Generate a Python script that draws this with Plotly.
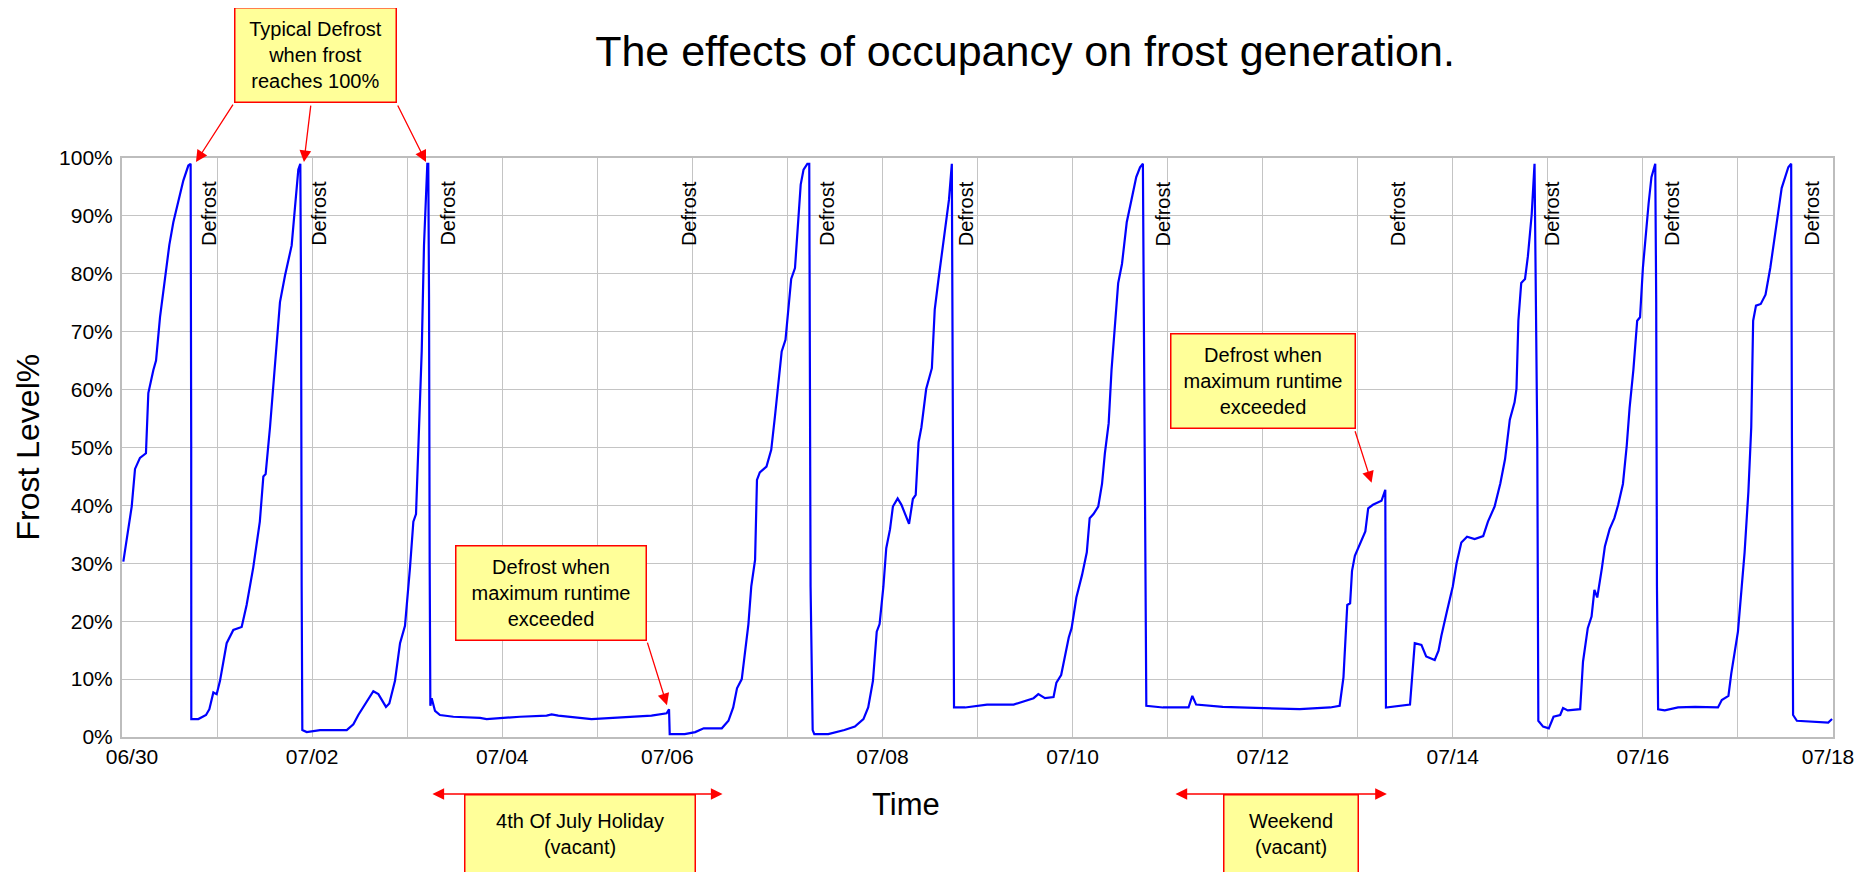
import pandas as pd
import plotly.graph_objects as go

# ---------------- data ----------------
START_DATE = "2008-06-30"
END_DATE = "2008-07-18"

# x-axis tick labels (every two days)
tick_labels = ["06/30", "07/02", "07/04", "07/06", "07/08", "07/10", "07/12", "07/14", "07/16", "07/18"]

# elapsed time since 06/30 00:00 (days) and frost level (%)
elapsed_days = [
    0.014, 0.102, 0.137, 0.189, 0.252, 0.277, 0.330, 0.358, 0.400, 0.435, 0.498, 0.540,
    0.593, 0.645, 0.698, 0.722, 0.728, 0.729, 0.803, 0.884, 0.919, 0.961, 0.996, 1.031,
    1.101, 1.171, 1.259, 1.311, 1.381, 1.417, 1.450, 1.487, 1.511, 1.557, 1.592, 1.627,
    1.662, 1.715, 1.750, 1.785, 1.820, 1.855, 1.876, 1.884, 1.890, 1.897, 1.943, 2.083,
    2.364, 2.434, 2.486, 2.574, 2.644, 2.697, 2.777, 2.812, 2.872, 2.925, 2.977, 3.030,
    3.065, 3.093, 3.117, 3.153, 3.177, 3.198, 3.212, 3.222, 3.230, 3.237, 3.244, 3.258,
    3.293, 3.345, 3.486, 3.766, 3.836, 4.187, 4.467, 4.520, 4.590, 4.940, 5.330, 5.570,
    5.730, 5.755, 5.762, 5.920, 6.030, 6.120, 6.310, 6.380, 6.430, 6.470, 6.520, 6.550,
    6.590, 6.620, 6.660, 6.680, 6.710, 6.780, 6.830, 6.870, 6.900, 6.940, 6.980, 7.010,
    7.040, 7.080, 7.110, 7.140, 7.170, 7.210, 7.230, 7.237, 7.244, 7.266, 7.283, 7.430,
    7.600, 7.710, 7.800, 7.850, 7.900, 7.940, 7.970, 8.010, 8.040, 8.080, 8.110, 8.160,
    8.200, 8.280, 8.320, 8.350, 8.380, 8.410, 8.460, 8.520, 8.550, 8.590, 8.640, 8.670,
    8.700, 8.730, 8.737, 8.744, 8.753, 8.870, 9.100, 9.380, 9.480, 9.590, 9.640, 9.710,
    9.800, 9.830, 9.880, 9.920, 9.960, 9.990, 10.040, 10.100, 10.150, 10.180, 10.220, 10.270,
    10.310, 10.340, 10.380, 10.410, 10.450, 10.480, 10.520, 10.570, 10.620, 10.670, 10.710, 10.740,
    10.748, 10.766, 10.776, 10.950, 11.220, 11.260, 11.300, 11.580, 12.010, 12.390, 12.710, 12.810,
    12.850, 12.890, 12.920, 12.940, 12.970, 13.020, 13.080, 13.110, 13.160, 13.250, 13.290, 13.297,
    13.550, 13.600, 13.670, 13.720, 13.810, 13.850, 13.880, 13.940, 14.000, 14.040, 14.090, 14.150,
    14.230, 14.320, 14.370, 14.440, 14.500, 14.550, 14.600, 14.650, 14.670, 14.690, 14.720, 14.760,
    14.790, 14.830, 14.860, 14.889, 14.900, 14.950, 15.010, 15.060, 15.130, 15.160, 15.210, 15.340,
    15.370, 15.420, 15.460, 15.490, 15.520, 15.570, 15.600, 15.650, 15.700, 15.740, 15.790, 15.830,
    15.860, 15.900, 15.940, 15.970, 16.000, 16.060, 16.090, 16.130, 16.140, 16.148, 16.160, 16.230,
    16.370, 16.550, 16.790, 16.830, 16.900, 16.930, 16.970, 17.000, 17.040, 17.070, 17.110, 17.140,
    17.160, 17.190, 17.240, 17.290, 17.340, 17.390, 17.460, 17.530, 17.560, 17.568, 17.580, 17.620,
    17.810, 17.950, 17.990,
]
frost_pct = [
    30.3, 39.8, 46.3, 48.2, 49.0, 59.4, 63.4, 65.0, 72.5, 77.1, 85.0, 88.9,
    92.8, 96.1, 98.7, 99.0, 50.9, 3.1, 3.1, 3.8, 4.8, 7.7, 7.4, 9.7,
    16.2, 18.5, 19.0, 22.8, 29.3, 33.2, 37.2, 45.0, 45.4, 53.5, 60.7, 68.6,
    75.1, 79.7, 82.3, 84.9, 91.5, 98.0, 99.0, 75.1, 26.0, 1.2, 0.85, 1.2,
    1.2, 2.2, 3.8, 6.1, 7.9, 7.4, 5.2, 5.8, 9.7, 16.2, 19.2, 29.3,
    37.2, 38.5, 49.0, 66.6, 84.9, 94.8, 99.0, 99.0, 75.8, 29.3, 5.4, 6.7,
    4.5, 3.8, 3.5, 3.3, 3.1, 3.5, 3.7, 3.9, 3.7, 3.1, 3.5, 3.7,
    4.1, 4.8, 0.5, 0.5, 0.85, 1.5, 1.5, 2.8, 5.1, 8.4, 10.0, 14.3,
    19.5, 26.0, 30.6, 44.4, 45.7, 46.7, 49.6, 55.5, 60.7, 66.6, 68.6, 73.8,
    79.1, 81.0, 88.2, 95.4, 98.0, 99.0, 99.0, 75.0, 26.0, 1.2, 0.5, 0.5,
    1.2, 1.8, 3.1, 5.1, 9.7, 18.2, 19.5, 26.0, 32.6, 35.9, 39.8, 41.2,
    40.1, 36.8, 41.1, 41.8, 50.9, 53.5, 60.1, 63.7, 73.8, 79.1, 85.6, 88.9,
    92.8, 99.0, 75.5, 29.3, 5.1, 5.1, 5.6, 5.6, 6.1, 6.7, 7.4, 6.7,
    6.9, 9.4, 10.7, 14.3, 17.2, 18.8, 24.1, 28.0, 31.9, 37.8, 38.5, 39.8,
    43.7, 49.0, 54.2, 63.4, 72.5, 78.4, 81.7, 88.9, 92.8, 96.7, 98.4, 99.0,
    77.7, 35.2, 5.4, 5.1, 5.1, 7.1, 5.6, 5.2, 5.0, 4.8, 5.1, 5.4,
    10.3, 22.8, 23.1, 28.7, 31.3, 33.2, 35.5, 39.5, 40.1, 40.8, 42.7, 5.1,
    5.6, 16.2, 15.9, 13.9, 13.3, 14.9, 17.5, 21.8, 26.0, 30.0, 33.6, 34.6,
    34.2, 34.7, 37.2, 39.8, 43.8, 48.0, 54.8, 57.8, 60.1, 71.9, 78.4, 79.1,
    83.0, 90.2, 99.0, 50.9, 2.8, 1.8, 1.5, 3.5, 3.8, 5.0, 4.6, 4.8,
    13.0, 18.8, 20.8, 25.4, 24.1, 29.3, 32.9, 35.9, 37.8, 40.1, 43.7, 50.3,
    56.8, 63.4, 71.9, 72.5, 81.0, 92.1, 96.7, 99.0, 75.1, 26.0, 4.8, 4.6,
    5.1, 5.2, 5.1, 6.4, 7.1, 11.0, 14.9, 18.2, 26.0, 31.9, 42.4, 53.5,
    71.9, 74.5, 74.8, 76.4, 81.0, 86.9, 94.8, 98.4, 99.0, 51.6, 3.8, 2.8,
    2.7, 2.5, 3.1,
]

# "Defrost" label positions (elapsed days)
defrost_label_days = [0.908, 2.065, 3.430, 5.960, 7.410, 8.875, 10.950, 13.420, 15.040, 16.300, 17.770]
defrost_label_text = "Defrost"

# typical defrost events (arrow targets), elapsed days
typical_defrost_days = [0.778, 1.914, 3.198]
# maximum-runtime defrost events: (elapsed day, frost %)
max_runtime_days = [5.733, 13.146]
max_runtime_pct = [5.5, 43.9]

# vacant periods (elapsed days)
vacant_starts = [3.25, 11.067]
vacant_ends = [6.318, 13.307]
vacant_labels = ["4th Of July Holiday<br>(vacant)", "Weekend<br>(vacant)"]

title_text = "The effects of occupancy on frost generation."
y_title = "Frost Level%"
x_title = "Time"

# ---------------- figure ----------------
t0 = pd.Timestamp(START_DATE)
def to_time(d):
    return t0 + pd.to_timedelta(d, unit="D")

times = [to_time(d) for d in elapsed_days]

FONT = "Liberation Sans, Arial, Helvetica, sans-serif"
PAGE_W, PAGE_H = 1875, 872
OFF = 8                     # default body margin of the html page
W, H = PAGE_W - OFF, PAGE_H - OFF
PX_L, PX_R, PX_T, PX_B = 122, 1833, 158, 737   # plot area in page pixels
L, R, T, B = PX_L - OFF, PAGE_W - PX_R, PX_T - OFF, PAGE_H - PX_B
PW, PH = PX_R - PX_L, PX_B - PX_T
PX_PER_DAY = PW / 18.0

def py(pix):
    """page pixel y -> paper y (relative to plot area)"""
    return (PX_B - pix) / PH

def px(pix):
    return (pix - PX_L) / PW

def pday(pix):
    return (pix - PX_L) / PX_PER_DAY

# tick label placement as in the reference (end labels kept inside, one label nudged)
label_shift_px = {"06/30": 10, "07/06": -25, "07/18": -5}
tick_vals = []
for i, lab in enumerate(tick_labels):
    tick_vals.append(to_time(2 * i + label_shift_px.get(lab, 0) / PX_PER_DAY))

fig = go.Figure()
fig.add_trace(go.Scatter(
    x=times, y=frost_pct, mode="lines",
    line=dict(color="#0000FF", width=2.2), showlegend=False, hoverinfo="skip",
))

grid = "#c4c4c4"
fig.update_layout(
    width=W, height=H,
    margin=dict(l=L, r=R, t=T, b=B, pad=0, autoexpand=False),
    paper_bgcolor="white", plot_bgcolor="white",
    font=dict(family=FONT, color="black"),
    title=dict(text=title_text, x=px(1025), xref="paper", xanchor="center",
               y=1 - (51 - OFF) / H, yanchor="middle", font=dict(size=43, family=FONT, color="black")),
    xaxis=dict(
        type="date", range=[START_DATE, END_DATE],
        tickmode="array", tickvals=tick_vals, ticktext=tick_labels,
        showgrid=False,
        minor=dict(tickmode="linear", tick0=START_DATE, dtick=86400000, showgrid=True,
                   gridcolor=grid, gridwidth=1, ticks=""),
        showline=True, linecolor="#bdbdbd", linewidth=2, mirror=True,
        ticks="", ticklabelstandoff=0,
        tickfont=dict(size=21, family=FONT, color="black"),
        zeroline=False,
    ),
    yaxis=dict(
        range=[0, 100], dtick=10, ticksuffix="%",
        showgrid=True, gridcolor=grid, gridwidth=1,
        showline=True, linecolor="#bdbdbd", linewidth=2, mirror=True,
        ticks="", ticklabelstandoff=3,
        tickfont=dict(size=21, family=FONT, color="black"),
        zeroline=False,
    ),
)

ann = []
# Defrost labels
for d in defrost_label_days:
    ann.append(dict(x=to_time(d), y=90.4, xref="x", yref="y", text=defrost_label_text,
                    textangle=-90, showarrow=False, font=dict(size=20, family=FONT, color="black"),
                    xanchor="center", yanchor="middle"))

box = dict(bgcolor="#FFFF99", bordercolor="#FF0000", borderwidth=1.5, borderpad=0,
           showarrow=False, align="center", valign="middle", xanchor="center", yanchor="middle",
           font=dict(size=20, family=FONT, color="black"))
arrow = dict(text="", showarrow=True, arrowcolor="#FF0000", arrowhead=2, arrowsize=1.8, arrowwidth=1.3)

# Typical defrost box (above plot)
ann.append(dict(x=to_time(pday(315.5)), y=py(55), xref="x", yref="paper",
                text="Typical Defrost<br>when frost<br>reaches 100%", width=160, height=93, **box))
tails = [(38, -59), (7, -58), (-29, -58)]
for d, (ax, ay) in zip(typical_defrost_days, tails):
    ann.append(dict(x=to_time(d), y=99.3, xref="x", yref="y", ax=ax, ay=ay, **arrow))

# maximum runtime boxes
mr_boxes = [(pday(551.3), 24.87, 189, (-20, -64)), (pday(1263.4), 61.5, 183, (-17, -53))]
for (bx, by, bw, (ax, ay)), d, p in zip(mr_boxes, max_runtime_days, max_runtime_pct):
    ann.append(dict(x=to_time(bx), y=by, xref="x", yref="y",
                    text="Defrost when<br>maximum runtime<br>exceeded", width=bw, height=93, **box))
    ann.append(dict(x=to_time(d), y=p, xref="x", yref="y", ax=ax, ay=ay, **arrow))

# vacant periods below axis
vac_boxes = [(pday(579.5), 229), (pday(1290.5), 133)]
for (bx, bw), s, e, lab in zip(vac_boxes, vacant_starts, vacant_ends, vacant_labels):
    ann.append(dict(x=to_time(bx), y=py(833.5), xref="x", yref="paper", text=lab,
                    width=bw, height=77, **box))
    ann.append(dict(x=to_time(e), y=py(794), xref="x", yref="paper",
                    axref="x", ax=to_time(s), ayref="pixel", ay=0, arrowside="end+start", **arrow))

# axis titles
ann.append(dict(x=px(27), y=0.5, xref="paper", yref="paper", text=y_title,
                textangle=-90, showarrow=False, font=dict(size=32, family=FONT, color="black"),
                xanchor="center", yanchor="middle"))
ann.append(dict(x=px(906), y=py(805), xref="paper", yref="paper", text=x_title,
                showarrow=False, font=dict(size=31, family=FONT, color="black"),
                xanchor="center", yanchor="middle"))

fig.update_layout(annotations=ann)
fig.write_html("out.html")
